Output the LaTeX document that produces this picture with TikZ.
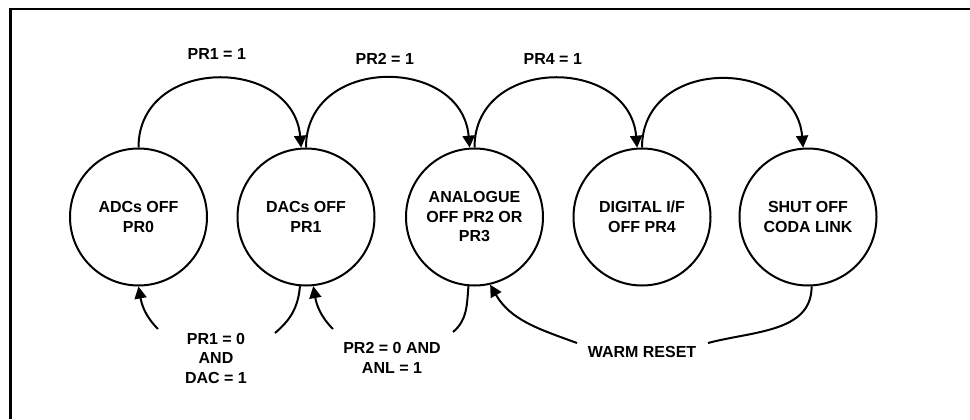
\documentclass[tikz,border=0pt]{standalone}
\usepackage{fontspec}
\setmainfont{Liberation Sans}
\usetikzlibrary{arrows.meta, positioning}

\begin{document}
\begin{tikzpicture}[
  x=0.5pt, y=0.5pt,
  state/.style={draw, circle, line width=1pt, minimum size=68.5pt, inner sep=0pt, align=center, font=\fontsize{8}{9.75}\selectfont\bfseries},
  lbl/.style={inner sep=0pt, align=center, font=\fontsize{8}{9.75}\selectfont\bfseries},
  wire/.style={line width=1pt},
  link/.style={line width=1pt, -{Triangle[length=6pt, width=6pt]}}
]
  \useasboundingbox (0,0) rectangle (970,419);
  \draw[line width=1.2pt] (10.3,0) |- (970,410.3);

  % states
  \node[state] (adc)  at (138.5, 202) {ADCs OFF\\PR0};
  \node[state] (dac)  at (306, 202)   {DACs OFF\\PR1};
  \node[state] (anl)  at (474.5, 202) {ANALOGUE\\OFF PR2 OR\\PR3};
  \node[state] (dig)  at (642, 202)   {DIGITAL I/F\\OFF PR4};
  \node[state] (shut) at (808, 202)   {SHUT OFF\\CODA LINK};

  % forward transitions
  \draw[link] (adc.north) to[out=90, in=95, looseness=1.45]
    node[lbl, midway, above=9pt] {PR1 = 1} (dac.94);
  \draw[link] (dac.north) to[out=90, in=95, looseness=1.45]
    node[lbl, midway, above=6.6pt] {PR2 = 1} (anl.94);
  \draw[link] (anl.north) to[out=90, in=95, looseness=1.45]
    node[lbl, midway, above=6.6pt] {PR4 = 1} (dig.94);
  \draw[link] (dig.north) to[out=90, in=95, looseness=1.45] (shut.94);

  % return transitions
  \node[lbl] (back1) at (216, 61) {PR1 = 0\\AND\\DAC = 1};
  \node[lbl] (back2) at (392, 61) {PR2 = 0 AND\\ANL = 1};
  \node[lbl] (reset) at (642, 67) {WARM RESET};

  \coordinate (g1a) at (275, 86);
  \coordinate (g1b) at (158, 90);
  \coordinate (g2a) at (453, 87);
  \coordinate (g2b) at (333, 90);
  \coordinate (g3a) at (708, 76);
  \coordinate (g3b) at (577, 76);

  \draw[wire] (dac.265) to[out=-95, in=40] (g1a);
  \draw[link] (g1b) to[out=135, in=-80] (adc.south);
  \draw[wire] (anl.265) to[out=-95, in=40] (g2a);
  \draw[link] (g2b) to[out=135, in=-80] (dac.-84);
  \draw[wire] (shut.-87) to[out=-90, in=15] (g3a);
  \draw[link] (g3b) to[out=160, in=-60] (anl.-77);
\end{tikzpicture}
\end{document}
